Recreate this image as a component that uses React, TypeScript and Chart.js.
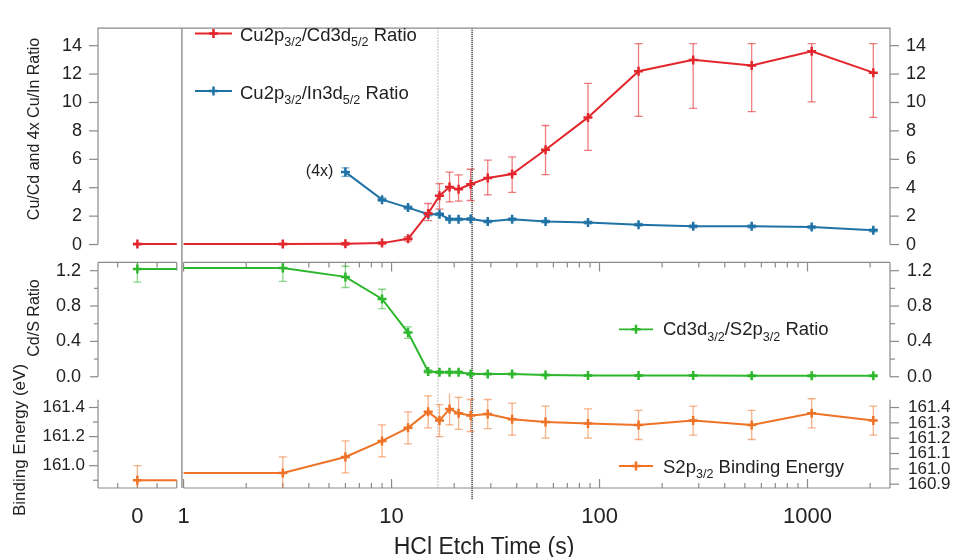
import React, { useEffect, useRef } from "react";
import { Chart, registerables } from "chart.js";

Chart.register(...registerables);

const FONT = '"Liberation Sans", Arial, Helvetica, sans-serif';
const TEXT = "#222222";
const AXIS = "#8a8a8a";
const RED = "#e3262c";
const BLUE = "#1f72a6";
const GREEN = "#2cb72c";
const ORANGE = "#ee7326";
const RED_ERR = "rgba(227,38,44,0.6)";
const BLUE_ERR = "rgba(31,114,166,0.6)";
const GREEN_ERR = "rgba(44,183,44,0.55)";
const ORANGE_ERR = "rgba(238,115,38,0.55)";

// ---------------- data ----------------
const ETCH_TIMES = [0, 3, 6, 9, 12, 15, 17, 19, 21, 24, 29, 38, 55, 88, 154, 282, 539, 1047, 2072];

const CU_CD_RATIO = [0.03, 0.03, 0.05, 0.1, 0.4, 2.19, 3.44, 4.05, 3.9, 4.24, 4.69, 4.97, 6.67, 8.95, 12.2, 13.0, 12.6, 13.6, 12.1];
const CU_CD_ERR_PLUS = [0.05, 0.05, 0.1, 0.1, 0.15, 0.7, 0.85, 1.05, 1.0, 1.06, 1.25, 1.2, 1.71, 2.39, 1.94, 1.14, 1.54, 0.54, 2.04];
const CU_CD_ERR_MINUS = [0.05, 0.05, 0.1, 0.1, 0.15, 0.5, 0.95, 1.05, 0.85, 1.14, 1.2, 1.3, 1.75, 2.32, 3.18, 3.42, 3.24, 3.56, 3.15];

const CU_IN_RATIO_4X = [null, null, 5.1, 3.16, 2.6, 2.14, 2.14, 1.78, 1.78, 1.8, 1.62, 1.78, 1.62, 1.55, 1.39, 1.28, 1.28, 1.23, 1.0];
const CU_IN_ERR = [0, 0, 0.3, 0.12, 0.12, 0.12, 0.1, 0.1, 0.1, 0.1, 0.1, 0.1, 0.1, 0.1, 0.1, 0.1, 0.1, 0.1, 0.1];

const CD_S_RATIO = [1.22, 1.23, 1.13, 0.88, 0.5, 0.06, 0.05, 0.05, 0.05, 0.03, 0.03, 0.03, 0.02, 0.015, 0.015, 0.015, 0.01, 0.01, 0.01];
const CD_S_ERR = [0.15, 0.15, 0.12, 0.11, 0.065, 0.02, 0.015, 0.015, 0.015, 0.015, 0.01, 0.01, 0.01, 0.01, 0.01, 0.01, 0.01, 0.01, 0.01];

const S2P_BE = [160.9, 160.95, 161.06, 161.17, 161.26, 161.37, 161.31, 161.39, 161.36, 161.345, 161.355, 161.32, 161.3, 161.29, 161.28, 161.31, 161.28, 161.36, 161.31];
const S2P_BE_ERR = [0.1, 0.11, 0.11, 0.11, 0.11, 0.11, 0.11, 0.11, 0.11, 0.11, 0.1, 0.11, 0.11, 0.1, 0.1, 0.1, 0.1, 0.1, 0.1];

const MARKER_LINE_TIMES = [16.7, 24.4];

// ---------------- ticks / labels ----------------
const X_TICK_TIMES = [0, 1, 10, 100, 1000];
const X_TICK_LABELS = ["0", "1", "10", "100", "1000"];
const TOP_TICKS = [0, 2, 4, 6, 8, 10, 12, 14];
const MID_TICKS = [0, 0.4, 0.8, 1.2];
const MID_MINOR_TICKS = [0.2, 0.6, 1.0];
const BOT_TICKS_LEFT = [161.0, 161.2, 161.4];
const BOT_MINOR_TICKS_LEFT = [160.9, 161.1, 161.3];
const BOT_TICKS_RIGHT = [160.9, 161.0, 161.1, 161.2, 161.3, 161.4];

const LEGEND_CU_CD = [["Cu2p", 0], ["3/2", 1], ["/Cd3d", 0], ["5/2", 1], [" Ratio", 0]];
const LEGEND_CU_IN = [["Cu2p", 0], ["3/2", 1], ["/In3d", 0], ["5/2", 1], [" Ratio", 0]];
const LEGEND_CD_S = [["Cd3d", 0], ["3/2", 1], ["/S2p", 0], ["3/2", 1], [" Ratio", 0]];
const LEGEND_S2P = [["S2p", 0], ["3/2", 1], [" Binding Energy", 0]];

const TITLE_TOP = "Cu/Cd and 4x Cu/In Ratio";
const TITLE_MID = "Cd/S Ratio";
const TITLE_BOT = "Binding Energy (eV)";
const TITLE_X = "HCl Etch Time (s)";
const SCALE_NOTE = "(4x)";

// ---------------- broken x axis (t = 0 section + log section) ----------------
const X_ZERO_POS = -0.2221;
const X_ZERO_STEP = 0.0947;
const X_MIN = X_ZERO_POS - 2 * X_ZERO_STEP;
const X_BREAK_LEFT = X_ZERO_POS + 2 * X_ZERO_STEP;
const X_BREAK_LINE = -0.008;
const X_MAX = 3.3966;
const toAxis = (t: number) => (t === 0 ? X_ZERO_POS : Math.log10(t));

// panel value extents
const TOP_PANEL = [0, 15.23];
const MID_PANEL = [0, 1.293];
const BOT_PANEL = [160.8467, 161.453];

const MARK_R = 4.5;

function seriesPoints(values: (number | null)[], extendZero: boolean) {
  const data: any[] = [];
  const radius: number[] = [];
  let realCount = 0;
  values.forEach((v, i) => {
    if (v === null) return;
    const t = ETCH_TIMES[i];
    if (extendZero && t !== 0 && realCount === 1) {
      data.push({ x: 0, y: v });
      radius.push(0);
    }
    data.push({ x: toAxis(t), y: v });
    radius.push(MARK_R);
    realCount++;
    if (extendZero && t === 0) {
      data.push({ x: X_BREAK_LEFT, y: v });
      radius.push(0);
      data.push({ x: X_BREAK_LINE, y: null });
      radius.push(0);
    }
  });
  return { data, radius };
}

function makeDataset(values: (number | null)[], color: string, axis: string, extendZero: boolean) {
  const { data, radius } = seriesPoints(values, extendZero);
  return {
    data,
    yAxisID: axis,
    borderColor: color,
    backgroundColor: color,
    borderWidth: 2,
    tension: 0,
    spanGaps: false,
    pointStyle: "cross",
    pointRadius: radius,
    pointBorderWidth: 2.5,
    pointBorderColor: color,
    pointBackgroundColor: color,
    pointHoverRadius: radius,
  };
}

// scales are given zero size so that all panels share one plot area;
// their label clip box is disabled so that the tick labels stay visible
const unclip = (s: any) => {
  s._computeLabelArea = () => undefined;
};

function yScale(position: string, min: number, max: number, ticks: number[], fmt: (v: number) => string, padding: number, size: number) {
  return {
    type: "linear",
    position,
    min,
    max,
    grid: { display: false, drawTicks: false },
    border: { display: false },
    title: { display: false },
    ticks: {
      autoSkip: false,
      padding,
      color: TEXT,
      font: { family: FONT, size },
      callback: (v: any) => fmt(Number(v)),
    },
    afterBuildTicks: (s: any) => {
      s.ticks = ticks.map((v) => ({ value: v }));
    },
    afterFit: (s: any) => {
      s.width = 0;
      unclip(s);
    },
  };
}

function drawRich(ctx: any, runs: any[], x: number, baseline: number, size: number) {
  let cx = x;
  ctx.textAlign = "left";
  ctx.textBaseline = "alphabetic";
  for (const [txt, sub] of runs) {
    const fs = sub ? size * 0.68 : size;
    ctx.font = `${fs}px ${FONT}`;
    ctx.fillText(txt, cx, sub ? baseline + size * 0.3 : baseline);
    cx += ctx.measureText(txt).width;
  }
}

function drawCross(ctx: any, x: number, y: number, color: string) {
  ctx.strokeStyle = color;
  ctx.lineWidth = 2.5;
  ctx.beginPath();
  ctx.moveTo(x - MARK_R, y);
  ctx.lineTo(x + MARK_R, y);
  ctx.moveTo(x, y - MARK_R);
  ctx.lineTo(x, y + MARK_R);
  ctx.stroke();
}

const decor = {
  id: "decor",
  beforeDatasetsDraw(chart: any) {
    const ctx = chart.ctx;
    const { left: L, right: R, top: T, bottom: B } = chart.chartArea;
    const xs = chart.scales.x;
    const yT = chart.scales.yTop;
    const yM = chart.scales.yMid;
    const yB = chart.scales.yBot;
    const yBR = chart.scales.yBotR;
    const xBL = xs.getPixelForValue(X_BREAK_LEFT);
    const xBR = xs.getPixelForValue(0);
    const topBottom = yT.getPixelForValue(TOP_PANEL[0]);
    const midTop = yM.getPixelForValue(MID_PANEL[1]);
    const midBottom = yM.getPixelForValue(MID_PANEL[0]);
    const botTop = yB.getPixelForValue(BOT_PANEL[1]);

    const seg = (x1: number, y1: number, x2: number, y2: number) => {
      ctx.beginPath();
      ctx.moveTo(x1, y1);
      ctx.lineTo(x2, y2);
      ctx.stroke();
    };

    ctx.save();
    // marker lines
    const mx0 = xs.getPixelForValue(toAxis(MARKER_LINE_TIMES[0]));
    ctx.strokeStyle = "#b5b5b5";
    ctx.lineWidth = 1.2;
    ctx.setLineDash([1.5, 1.5]);
    seg(mx0, T, mx0, B);
    const mx1 = xs.getPixelForValue(toAxis(MARKER_LINE_TIMES[1]));
    ctx.strokeStyle = "#444444";
    ctx.lineWidth = 1.8;
    ctx.setLineDash([1, 1]);
    seg(mx1, T, mx1, B + 12);
    ctx.setLineDash([]);

    // axis lines
    ctx.strokeStyle = AXIS;
    ctx.lineWidth = 1.2;
    ctx.beginPath();
    ctx.moveTo(L, topBottom);
    ctx.lineTo(L, T);
    ctx.lineTo(R, T);
    ctx.lineTo(R, topBottom);
    ctx.stroke();
    seg(L, midTop, L, midBottom);
    seg(R, midTop, R, midBottom);
    seg(L, midTop, xBL, midTop);
    seg(xBR, midTop, R, midTop);
    seg(L, botTop, L, B);
    seg(R, botTop, R, B);
    seg(L, B, xBL, B);
    seg(xBR, B, R, B);
    const xBreak = xs.getPixelForValue(X_BREAK_LINE);
    ctx.strokeStyle = "#7a7a7a";
    seg(xBreak, T, xBreak, B);
    ctx.strokeStyle = AXIS;

    // x ticks (bottom axis pointing up, mid panel top pointing down)
    const xMajor = X_TICK_TIMES.map(toAxis);
    const xMinor: number[] = [X_ZERO_POS - X_ZERO_STEP, X_ZERO_POS + X_ZERO_STEP];
    for (let k = 0; k < 4; k++) {
      for (let m = 2; m <= 9; m++) {
        const u = k + Math.log10(m);
        if (u < X_MAX) xMinor.push(u);
      }
    }
    const xEnds = [X_BREAK_LEFT];
    for (const u of xMajor) {
      const x = xs.getPixelForValue(u);
      seg(x, B, x, B - 9);
      seg(x, midTop, x, midTop + 9);
    }
    for (const u of xMinor) {
      const x = xs.getPixelForValue(u);
      seg(x, B, x, B - 5);
      seg(x, midTop, x, midTop + 5);
    }
    for (const u of xEnds) {
      const x = xs.getPixelForValue(u);
      seg(x, B, x, B - 8);
      seg(x, midTop, x, midTop + 8);
    }

    // y ticks
    const leftTick = (sc: any, v: number, len: number) => {
      const y = sc.getPixelForValue(v);
      seg(L, y, L - len, y);
    };
    const rightTick = (sc: any, v: number, len: number) => {
      const y = sc.getPixelForValue(v);
      seg(R, y, R + len, y);
    };
    TOP_TICKS.forEach((v) => {
      leftTick(yT, v, 9);
      rightTick(yT, v, 9);
    });
    MID_TICKS.forEach((v) => {
      leftTick(yM, v, 8);
      rightTick(yM, v, 9);
    });
    MID_MINOR_TICKS.forEach((v) => {
      leftTick(yM, v, 4);
      rightTick(yM, v, 5);
    });
    BOT_TICKS_LEFT.forEach((v) => leftTick(yB, v, 9));
    BOT_MINOR_TICKS_LEFT.forEach((v) => leftTick(yB, v, 5));
    BOT_TICKS_RIGHT.forEach((v) => rightTick(yBR, v, 9));

    // error bars
    const errs = (sc: any, values: (number | null)[], plus: number[], minus: number[], color: string, clipTop: number, clipBottom: number) => {
      ctx.save();
      ctx.beginPath();
      ctx.rect(L, clipTop, R - L, clipBottom - clipTop);
      ctx.clip();
      ctx.strokeStyle = color;
      ctx.lineWidth = 1.3;
      values.forEach((v, i) => {
        if (v === null || !(plus[i] > 0 || minus[i] > 0)) return;
        const x = xs.getPixelForValue(toAxis(ETCH_TIMES[i]));
        const y1 = sc.getPixelForValue(v + plus[i]);
        const y2 = sc.getPixelForValue(v - minus[i]);
        seg(x, y1, x, y2);
        seg(x - 4, y1, x + 4, y1);
        seg(x - 4, y2, x + 4, y2);
      });
      ctx.restore();
    };
    errs(yT, CU_CD_RATIO, CU_CD_ERR_PLUS, CU_CD_ERR_MINUS, RED_ERR, T - 2, topBottom + 8);
    errs(yT, CU_IN_RATIO_4X, CU_IN_ERR, CU_IN_ERR, BLUE_ERR, T - 2, topBottom + 8);
    errs(yM, CD_S_RATIO, CD_S_ERR, CD_S_ERR, GREEN_ERR, midTop, midBottom + 6);
    errs(yB, S2P_BE, S2P_BE_ERR, S2P_BE_ERR, ORANGE_ERR, botTop - 6, B);
    ctx.restore();
  },
  afterDatasetsDraw(chart: any) {
    const ctx = chart.ctx;
    const xs = chart.scales.x;
    const yT = chart.scales.yTop;
    ctx.save();
    ctx.fillStyle = TEXT;

    // legends
    const legend = (runs: any[], color: string, x1: number, x2: number, y: number, tx: number, baseline: number) => {
      ctx.strokeStyle = color;
      ctx.lineWidth = 1.8;
      ctx.beginPath();
      ctx.moveTo(x1, y);
      ctx.lineTo(x2, y);
      ctx.stroke();
      drawCross(ctx, (x1 + x2) / 2, y, color);
      ctx.fillStyle = TEXT;
      drawRich(ctx, runs, tx, baseline, 18.5);
    };
    legend(LEGEND_CU_CD, RED, 195, 232, 33.5, 240, 40.5);
    legend(LEGEND_CU_IN, BLUE, 195, 232, 91, 240, 98.5);
    legend(LEGEND_CD_S, GREEN, 619, 653, 329.3, 663, 335);
    legend(LEGEND_S2P, ORANGE, 619, 653, 466, 663, 472.7);

    // (4x) note next to first Cu/In point
    const firstIdx = CU_IN_RATIO_4X.findIndex((v) => v !== null);
    const nx = xs.getPixelForValue(toAxis(ETCH_TIMES[firstIdx])) - 12;
    const ny = yT.getPixelForValue(CU_IN_RATIO_4X[firstIdx] as number);
    ctx.font = `16px ${FONT}`;
    ctx.textAlign = "right";
    ctx.textBaseline = "middle";
    ctx.fillStyle = TEXT;
    ctx.fillText(SCALE_NOTE, nx, ny);

    // axis titles
    const vTitle = (txt: string, x: number, y: number, size: number) => {
      ctx.save();
      ctx.translate(x, y);
      ctx.rotate(-Math.PI / 2);
      ctx.font = `${size}px ${FONT}`;
      ctx.textAlign = "center";
      ctx.textBaseline = "middle";
      ctx.fillText(txt, 0, 0);
      ctx.restore();
    };
    vTitle(TITLE_TOP, 35, 129, 16);
    vTitle(TITLE_MID, 35, 318, 16);
    vTitle(TITLE_BOT, 20, 440, 17);

    ctx.font = `23px ${FONT}`;
    ctx.textAlign = "center";
    ctx.textBaseline = "alphabetic";
    ctx.fillText(TITLE_X, 484, 554);
    ctx.restore();
  },
};

export default function App() {
  const ref = useRef<HTMLCanvasElement>(null);
  useEffect(() => {
    const canvas = ref.current;
    if (!canvas) return;
    const chart = new Chart(canvas, {
      type: "line",
      data: {
        datasets: [
          makeDataset(CU_CD_RATIO, RED, "yTop", true),
          makeDataset(CU_IN_RATIO_4X, BLUE, "yTop", false),
          makeDataset(CD_S_RATIO, GREEN, "yMid", true),
          makeDataset(S2P_BE, ORANGE, "yBot", true),
        ] as any,
      },
      options: {
        responsive: false,
        animation: false,
        devicePixelRatio: 1,
        events: [],
        layout: { padding: { left: 98, right: 65, top: 14, bottom: 69 }, autoPadding: false },
        plugins: { legend: { display: false }, tooltip: { enabled: false }, title: { display: false } },
        scales: {
          x: {
            type: "linear",
            position: "bottom",
            min: X_MIN,
            max: X_MAX,
            grid: { display: false, drawTicks: false },
            border: { display: false },
            ticks: {
              autoSkip: false,
              maxRotation: 0,
              minRotation: 0,
              padding: 16,
              color: TEXT,
              font: { family: FONT, size: 22 },
              callback: (_v: any, i: number) => X_TICK_LABELS[i],
            },
            afterBuildTicks: (s: any) => {
              s.ticks = X_TICK_TIMES.map((t) => ({ value: toAxis(t) }));
            },
            afterFit: (s: any) => {
              s.height = 0;
              unclip(s);
            },
          },
          yTop: yScale("left", -17.14, 15.23, TOP_TICKS, (v) => String(v), 16, 18),
          yTopR: yScale("right", -17.14, 15.23, TOP_TICKS, (v) => String(v), 16, 18),
          yMid: yScale("left", -1.259, 3.944, MID_TICKS, (v) => v.toFixed(1), 17, 18),
          yMidR: yScale("right", -1.259, 3.944, MID_TICKS, (v) => v.toFixed(1), 17, 18),
          yBot: yScale("left", 160.8467, 164.007, BOT_TICKS_LEFT, (v) => v.toFixed(1), 13, 17),
          yBotR: yScale("right", 160.875, 163.875, BOT_TICKS_RIGHT, (v) => v.toFixed(1), 18, 17),
        } as any,
      },
      plugins: [decor],
    } as any);
    return () => chart.destroy();
  }, []);
  return (
    <div style={{ position: "fixed", left: 0, top: 0, width: 955, height: 557, background: "#fff" }}>
      <canvas ref={ref} width={955} height={557} style={{ display: "block", width: 955, height: 557 }} />
    </div>
  );
}
